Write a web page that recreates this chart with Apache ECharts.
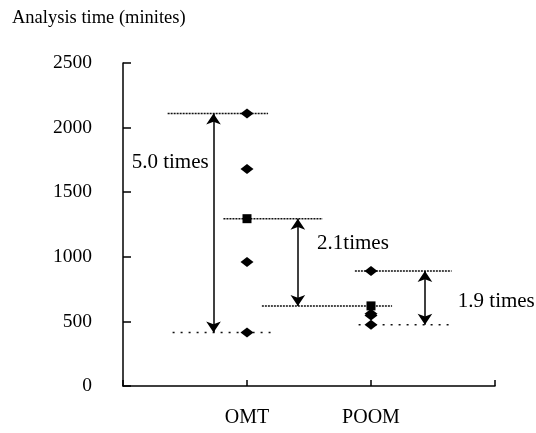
<!DOCTYPE html>
<html>
<head>
<meta charset="utf-8">
<script src="https://cdn.jsdelivr.net/npm/echarts@6/dist/echarts.min.js"></script>
<style>
    html, body { margin: 0; background: #fff; }
    #main { width: 536px; height: 433px; }
</style>
</head>
<body>
<div id="main"></div>
<script>
// values
const categories = ['OMT', 'POOM'];
const omtTimes = [2110, 1680, 960, 415];
const poomTimes = [890, 560, 545, 475];
const meanTimes = [1295, 620];
const ratioLabels = ['5.0 times', '2.1times', '1.9 times'];
const ratioPairs = [[2110, 415], [1295, 620], [890, 475]];

// layout of the guide lines / arrows (x in category units, OMT = 1, POOM = 2)
const guideSpans = [[0.36, 1.17], [0.40, 1.19], [0.81, 1.61], [1.12, 2.17], [1.87, 2.65], [1.90, 2.65]];
const guideDash = [[2, 1], [2, 6], [2, 1], [2, 1], [2, 1], [2, 6]];
const arrowX = [0.73, 1.41, 2.435];
const labelAnchors = [[0.07, 1730], [1.565, 1103], [2.70, 654]];

const serif = 'Liberation Serif, Times New Roman, serif';
const myChart = echarts.init(document.getElementById('main'));

const guideValues = [].concat(...ratioPairs);
const guideSeries = guideValues.map(function (v, i) {
    return {
        type: 'line',
        data: [[guideSpans[i][0], v], [guideSpans[i][1], v]],
        showSymbol: false,
        silent: true,
        z: 1,
        lineStyle: {color: '#111', width: 1.5, type: guideDash[i]}
    };
});

let option = {
    animation: false,
    backgroundColor: '#fff',
    title: {
        text: 'Analysis time (minites)',
        left: 7,
        top: 4,
        textStyle: {fontFamily: serif, fontSize: 18.5, fontWeight: 'normal', color: '#000'}
    },
    grid: {left: 123, right: 41, top: 63, bottom: 47},
    xAxis: {
        type: 'value',
        min: 0,
        max: 3,
        interval: 1,
        splitLine: {show: false},
        axisLine: {lineStyle: {color: '#000', width: 1.5}},
        axisTick: {inside: true, length: 6, lineStyle: {color: '#000', width: 1.5}},
        axisLabel: {
            margin: 22,
            fontFamily: serif,
            fontSize: 20,
            color: '#000',
            formatter: function (v) {
                return categories[v - 1] || '';
            }
        }
    },
    yAxis: {
        type: 'value',
        min: 0,
        max: 2500,
        interval: 500,
        splitLine: {show: false},
        axisLine: {show: true, lineStyle: {color: '#000', width: 1.5}},
        axisTick: {show: true, inside: true, length: 8, lineStyle: {color: '#000', width: 1.5}},
        axisLabel: {
            margin: 31,
            fontFamily: serif,
            fontSize: 19.5,
            color: '#000',
            formatter: v => String(v)
        }
    },
    series: guideSeries.concat([
        {
            type: 'scatter',
            symbol: 'diamond',
            symbolSize: [13, 10],
            itemStyle: {color: '#000', opacity: 1},
            z: 3,
            data: omtTimes.map(v => [1, v]).concat(poomTimes.map(v => [2, v]))
        },
        {
            type: 'scatter',
            symbol: 'rect',
            symbolSize: [9, 9],
            itemStyle: {color: '#000', opacity: 1},
            z: 3,
            data: meanTimes.map((v, i) => [i + 1, v])
        },
        {
            type: 'line',
            data: [],
            markLine: {
                silent: true,
                symbol: ['arrow', 'arrow'],
                symbolSize: [11, 11],
                label: {show: false},
                lineStyle: {color: '#000', width: 1.5, type: 'solid'},
                itemStyle: {color: '#000'},
                data: ratioPairs.map((p, i) => [{coord: [arrowX[i], p[0]]}, {coord: [arrowX[i], p[1]]}])
            }
        },
        {
            type: 'scatter',
            symbolSize: 0,
            silent: true,
            itemStyle: {color: '#000', opacity: 1},
            data: ratioLabels.map((t, i) => [labelAnchors[i][0], labelAnchors[i][1], t]),
            label: {
                show: true,
                position: 'right',
                distance: 0,
                formatter: p => p.value[2],
                fontFamily: serif,
                fontSize: 21,
                color: '#000',
                opacity: 1
            }
        }
    ])
};

myChart.setOption(option);
</script>
</body>
</html>
